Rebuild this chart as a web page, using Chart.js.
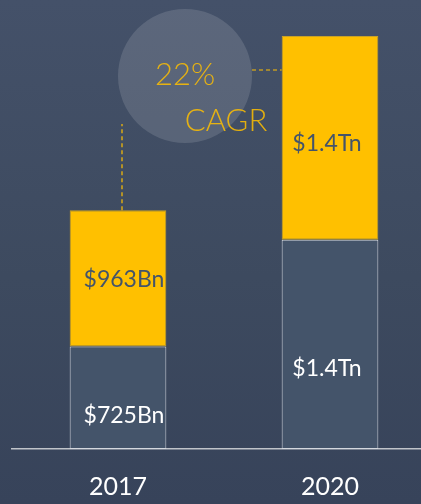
<!DOCTYPE html>
<html>
<head>
<meta charset="utf-8">
<script src="https://cdn.jsdelivr.net/npm/chart.js@4/dist/chart.umd.min.js"></script>
<style>
  html, body { margin: 0; padding: 0; overflow: hidden; }
  body {
    width: 421px; height: 504px;
    background: linear-gradient(180deg, #445169 0%, #3d4a5f 55%, #37435a 100%);
  }
  #wrap { width: 436px; height: 504px; position: relative; }
</style>
</head>
<body>
<div id="wrap"><canvas id="chart"></canvas></div>
<script>
const years = ['2017', '2020'];
const baseValues = [725, 1480];
const topValues = [963, 1440];
const baseLabels = ['$725Bn', '$1.4Tn'];
const topLabels = ['$963Bn', '$1.4Tn'];
const cagrText = ['22%', 'CAGR'];

const yellow = '#ffc000';
const slate = '#44546a';

// value labels inside each segment, nudged like the original slide
const segmentLabels = {
    id: 'segmentLabels',
    afterDatasetsDraw(chart, args, opts) {
        const ctx = chart.ctx;
        ctx.save();
        ctx.font = '23px Lato';
        ctx.textAlign = 'center';
        ctx.textBaseline = 'middle';
        chart.data.datasets.forEach((ds, di) => {
            const meta = chart.getDatasetMeta(di);
            meta.data.forEach((bar, i) => {
                const p = bar.getProps(['x', 'y', 'base'], true);
                const off = opts.offsets[di][i];
                ctx.fillStyle = ds.labelColor;
                ctx.fillText(ds.valueLabels[i], p.x + off[0], (p.y + p.base) / 2 + off[1]);
            });
        });
        ctx.restore();
    }
};

// CAGR bubble and dashed connectors
const cagrBubble = {
    id: 'cagrBubble',
    afterDraw(chart, args, opts) {
        const ctx = chart.ctx;
        const first = chart.getDatasetMeta(1).data[0].getProps(['x', 'y'], true);
        const last = chart.getDatasetMeta(1).data[1];
        const lastLeft = last.x - last.width / 2;
        ctx.save();
        ctx.fillStyle = 'rgba(255,255,255,0.13)';
        ctx.beginPath();
        ctx.arc(opts.cx, opts.cy, opts.r, 0, Math.PI * 2);
        ctx.fill();

        ctx.strokeStyle = yellow;
        ctx.lineWidth = 1.2;
        ctx.setLineDash([4, 3]);
        ctx.beginPath();
        ctx.moveTo(first.x + 4, first.y);
        ctx.lineTo(first.x + 4, opts.lineTop);
        ctx.moveTo(opts.cx + opts.r, opts.lineY);
        ctx.lineTo(lastLeft, opts.lineY);
        ctx.stroke();
        ctx.setLineDash([]);

        ctx.fillStyle = 'rgba(255,192,0,0.85)';
        ctx.font = '300 31px Lato';
        ctx.textAlign = 'center';
        ctx.textBaseline = 'middle';
        ctx.fillText(cagrText[0], opts.cx, opts.cy - 1);
        ctx.fillText(cagrText[1], opts.cx + 41, opts.cy + 45);
        ctx.restore();
    }
};

new Chart(document.getElementById('chart'), {
    type: 'bar',
    data: {
        labels: years,
        datasets: [{
            data: baseValues,
            valueLabels: baseLabels,
            labelColor: '#ffffff',
            backgroundColor: slate,
            borderColor: '#d4d8de',
            borderWidth: 1,
            borderSkipped: false
        }, {
            data: topValues,
            valueLabels: topLabels,
            labelColor: slate,
            backgroundColor: yellow,
            borderColor: '#c9a227',
            borderWidth: 1,
            borderSkipped: false
        }]
    },
    options: {
        responsive: true,
        maintainAspectRatio: false,
        animation: false,
        layout: {
            padding: { left: 12, top: 36, right: 0, bottom: -21 }
        },
        datasets: {
            bar: { barPercentage: 0.456, categoryPercentage: 1 }
        },
        scales: {
            x: {
                stacked: true,
                grid: { display: false, drawTicks: false },
                border: { color: '#c0c4ca', width: 1.5 },
                ticks: {
                    color: '#ffffff',
                    padding: 23,
                    font: { family: 'Lato', size: 25 }
                }
            },
            y: {
                stacked: true,
                display: false,
                min: 0,
                max: 2920
            }
        },
        plugins: {
            legend: { display: false },
            tooltip: { enabled: false },
            segmentLabels: {
                offsets: [[[6, 18], [-3, 24]], [[6, 1], [-3, 6]]]
            },
            cagrBubble: { cx: 185, cy: 76, r: 67, lineTop: 124, lineY: 70 }
        }
    },
    plugins: [segmentLabels, cagrBubble]
});
</script>
</body>
</html>
